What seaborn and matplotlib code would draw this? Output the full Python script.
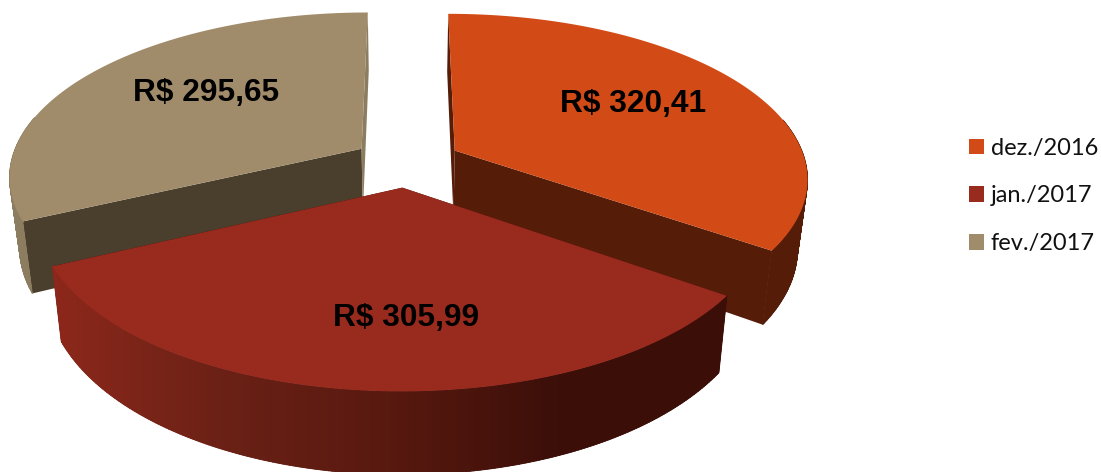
import numpy as np
import matplotlib.pyplot as plt
from matplotlib.collections import PolyCollection
from matplotlib.colors import ListedColormap
from matplotlib.patches import Patch, Polygon
import seaborn as sns

# data
months = ['dez./2016', 'jan./2017', 'fev./2017']
values = [320.41, 305.99, 295.65]
top_colors = ['#D24A15', '#982A1E', '#A08C6A']
cut_colors = [('#551C08', '#551C08'), ('#3C0E08', '#3C0E08'), ('#4A3F2D', '#8C7D60')]
outer_ramps = [['#551C08', '#551C08'],
               ['#8C281B', '#6B2116', '#58190F', '#3C0F09', '#3C0E08'],
               ['#8C7D60', '#8C7D60']]
label_pos = [(633, 104), (406, 318), (206, 93)]

# pie geometry, in pixels
X0, Y0 = 407, 162
RX, RY = 351, 162
PERSP = 0.16
EXPLODE = 0.155
HEIGHT = 68
SHRINK = 0.025


def project(u, v, z=0.0):
    """Disc coords to screen, z=1 is the underside of the pie."""
    w = 1 / (1 - PERSP * v)
    x = X0 + RX * u * w * (1 - SHRINK * z)
    y = Y0 + (RY * v + HEIGHT * z) * w
    return x, y


def quad_wall(a, b, z=1.0):
    return np.array([project(*a), project(*b), project(*b, z), project(*a, z)])


sns.set_style('white')
plt.rcParams['font.family'] = ['Lato', 'DejaVu Sans']

fig = plt.figure(figsize=(11.01, 4.72), dpi=100)
ax = fig.add_axes([0, 0, 1, 1])

edges = np.cumsum([0] + values) / sum(values) * 2 * np.pi
# back slices first, the jan. slice sits in front of both
for order, i in enumerate([2, 0, 1]):
    start, stop = edges[i], edges[i + 1]
    mid = (start + stop) / 2
    cu, cv = EXPLODE * np.sin(mid), -EXPLODE * np.cos(mid)
    t = np.linspace(start, stop, 240)
    u, v = cu + np.sin(t), cv - np.cos(t)

    # flat cut faces
    for end, col in zip([start, stop], cut_colors[i]):
        rim = (cu + np.sin(end), cv - np.cos(end))
        ax.fill(*quad_wall((cu, cv), rim).T, color=col, lw=0, zorder=order * 3 + 1)

    # rounded outer wall, shaded left to right; the far side is hidden anyway
    ramp = sns.blend_palette(outer_ramps[i], n_colors=256)
    quads = [quad_wall((u[j], v[j]), (u[j + 1], v[j + 1])) for j in range(len(t) - 1)
             if -np.cos(t[j]) > -0.2]
    xs = np.array([q[:, 0].mean() for q in quads])
    idx = np.clip(((xs - 55) / 670 * 255).astype(int), 0, 255)
    cols = [ramp[n] for n in idx]
    ax.add_collection(PolyCollection(quads, facecolors=cols, edgecolors=cols, linewidths=0.6,
                                     zorder=order * 3 + 2))

    # smooth gradient over the quads, they leave thin streaks
    keep = -np.cos(t) > -0.2
    wall = Polygon(np.vstack([np.column_stack(project(u[keep], v[keep])),
                              np.column_stack(project(u[keep], v[keep], 1.0))[::-1]]),
                   transform=ax.transData, facecolor='none', edgecolor='none')
    ax.add_patch(wall)
    shade_x = np.clip((np.arange(1101) - 55) / 670, 0, 1)
    shade = ax.imshow(shade_x[None, :], cmap=ListedColormap(ramp), vmin=0, vmax=1, aspect='auto',
                      extent=(0, 1101, 472, 0), zorder=order * 3 + 2)
    shade.set_clip_path(wall)

    # top face
    px, py = project(np.r_[cu, u], np.r_[cv, v])
    ax.fill(px, py, color=top_colors[i], lw=0, zorder=order * 3 + 3)

    label = 'R$ ' + f'{values[i]:.2f}'.replace('.', ',')
    ax.text(*label_pos[i], label, ha='center', va='center', fontsize=22.8, fontweight='bold',
            family='Liberation Sans', color='black', zorder=20)

ax.set_xlim(0, 1101)
ax.set_ylim(472, 0)
ax.axis('off')

handles = [Patch(facecolor=c, edgecolor='none') for c in top_colors]
ax.legend(handles, months, loc='center left', bbox_to_anchor=(969 / 1101, 1 - 196 / 472),
          frameon=False, fontsize=17, handlelength=0.63, handleheight=0.63, handletextpad=0.3,
          labelspacing=1.14, borderpad=0, borderaxespad=0, labelcolor='#111111')

fig.savefig('out.png', dpi=100)
plt.close()
